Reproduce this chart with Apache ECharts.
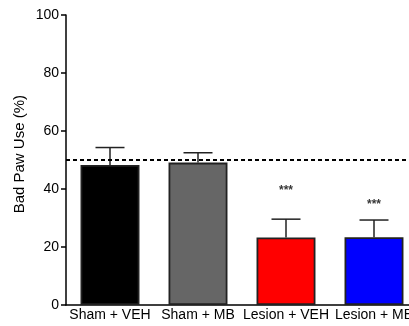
<!DOCTYPE html>
<html><head><meta charset="utf-8">
<script src="https://cdn.jsdelivr.net/npm/echarts@6/dist/echarts.min.js"></script>
<style>html,body{margin:0;padding:0;background:#fff}#c{width:409px;height:326px}</style>
</head><body><div id="c"></div>
<script>
const categories = ['Sham + VEH', 'Sham + MB', 'Lesion + VEH', 'Lesion + MB'];
const means = [48.3, 49.1, 23.3, 23.4];
const errUpper = [54.3, 52.5, 29.6, 29.3];
const barColors = ['#000000', '#666666', '#ff0000', '#0000ff'];
const starPos = [null, null, 39.4, 34.5];
const starText = ['', '', '***', '***'];
const refLine = 50;
const yTicks = [0, 20, 40, 60, 80, 100];

const chart = echarts.init(document.getElementById('c'), null, {renderer: 'canvas'});
const font = 'Liberation Sans, Arial, Helvetica, sans-serif';
chart.setOption({
  animation: false,
  grid: {left: 66, width: 352, top: 15, bottom: 21, outerBoundsMode: 'none', containLabel: false},
  xAxis: {
    type: 'category', data: categories,
    axisLine: {lineStyle: {color: '#000', width: 1.5}},
    axisTick: {show: false},
    axisLabel: {color: '#000', fontSize: 14, fontFamily: font, margin: 3, interval: 0, hideOverlap: false}
  },
  yAxis: {
    type: 'value', min: 0, max: 100, interval: 20,
    axisLine: {show: true, lineStyle: {color: '#000', width: 1.5}},
    axisTick: {show: true, length: 5, lineStyle: {color: '#000', width: 1.5}},
    splitLine: {show: false},
    axisLabel: {color: '#000', fontSize: 14, fontFamily: font, margin: 7,
      formatter: v => yTicks.includes(v) ? String(v) : ''}
  },
  graphic: [{
    type: 'text', left: 12, top: 95, rotation: Math.PI / 2,
    style: {text: 'Bad Paw Use (%)', fill: '#000', font: '15px ' + font}
  }],
  series: [
    {
      type: 'bar', barWidth: '67%',
      data: means.map((v, i) => ({value: v, itemStyle: {color: barColors[i]}})),
      itemStyle: {borderColor: '#222', borderWidth: 1.8},
      markLine: {
        symbol: 'none', silent: true, label: {show: false},
        lineStyle: {color: '#000', type: [4, 3], width: 2},
        data: [{yAxis: refLine}]
      },
      z: 2
    },
    {
      type: 'custom',
      data: means.map((v, i) => [i, v, errUpper[i]]),
      renderItem: function (params, api) {
        const x = api.value(0);
        const lo = api.coord([x, api.value(1)]);
        const hi = api.coord([x, api.value(2)]);
        const hw = 14.5;
        const st = {stroke: '#222', lineWidth: 1.5};
        return {type: 'group', children: [
          {type: 'line', shape: {x1: lo[0], y1: lo[1], x2: hi[0], y2: hi[1]}, style: st},
          {type: 'line', shape: {x1: hi[0] - hw, y1: hi[1], x2: hi[0] + hw, y2: hi[1]}, style: st}
        ]};
      },
      z: 3
    },
    {
      type: 'scatter', symbolSize: 0,
      data: starPos.map((v, i) => v == null ? [i, null] : [i, v]),
      label: {show: true, position: 'inside', color: '#000', fontSize: 12, fontWeight: 'bold', fontFamily: font,
        formatter: p => starText[p.dataIndex]},
      z: 4
    }
  ]
});
</script></body></html>
